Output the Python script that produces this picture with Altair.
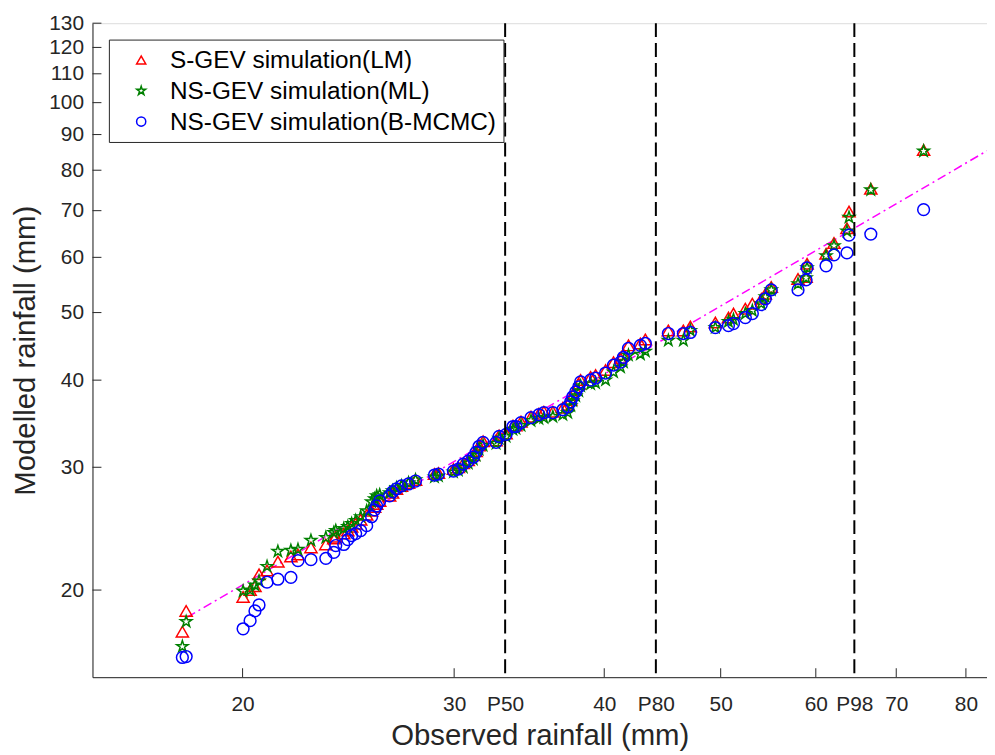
import altair as alt
import pandas as pd

# Observed rainfall (mm), sorted
observed = [17.82, 17.95, 20.02, 20.29, 20.48, 20.64, 20.96, 21.40, 21.94, 22.24,
            22.80, 23.46, 23.82, 23.91, 24.28, 24.47, 24.65, 24.84, 25.08, 25.37,
            25.61, 25.76, 25.86, 26.01, 26.51, 26.66, 26.86, 27.12, 27.49, 27.86,
            28.89, 29.11, 29.96, 30.24, 30.53, 30.82, 31.12, 31.29, 31.47, 31.71,
            32.51, 32.70, 33.14, 33.58, 33.77, 34.10, 34.76, 35.29, 35.63, 36.25,
            36.95, 37.30, 37.51, 37.66, 37.87, 38.09, 38.23, 38.97, 39.34, 40.10,
            40.72, 41.27, 41.50, 41.90, 42.87, 43.28, 45.23, 46.55, 47.18, 49.49,
            50.75, 51.24, 52.42, 53.13, 54.05, 54.47, 55.09, 57.99, 58.89, 59.00,
            61.19, 62.13, 63.69, 63.94, 66.67, 73.77]

# Modelled rainfall (mm)
s_gev_lm = [17.43, 18.67, 19.55, 20.00, 20.26, 21.07, 21.34, 21.97, 22.35, 22.50,
            23.02, 23.25, 23.71, 23.86, 24.10, 24.34, 24.66, 24.90, 25.23, 25.64,
            25.98, 26.32, 26.58, 26.84, 27.30, 27.57, 27.93, 28.21, 28.49, 28.77,
            29.34, 29.43, 29.82, 30.01, 30.41, 30.71, 31.22, 31.62, 32.25, 32.68,
            32.78, 33.32, 33.54, 34.43, 34.43, 34.88, 35.46, 35.81, 36.04, 36.04,
            36.52, 36.88, 37.49, 38.10, 38.73, 39.50, 40.02, 40.42, 40.68, 41.35,
            42.45, 43.00, 43.57, 44.87, 45.16, 45.76, 47.13, 47.13, 47.75, 48.38,
            49.18, 49.83, 50.65, 51.48, 52.33, 53.19, 54.42, 55.87, 56.24, 58.73,
            60.70, 62.93, 66.07, 69.79, 75.23, 85.50]

ns_gev_ml = [16.60, 18.02, 19.93, 20.00, 20.33, 20.60, 21.62, 22.72, 22.80, 22.87,
             23.56, 23.79, 24.18, 24.34, 24.50, 24.66, 24.90, 25.15, 25.48, 25.98,
             26.76, 27.03, 27.30, 27.39, 27.57, 27.75, 28.02, 28.21, 28.49, 28.77,
             29.05, 29.15, 29.53, 29.72, 30.01, 30.41, 30.81, 31.22, 31.83, 32.25,
             32.46, 33.00, 33.21, 33.98, 34.09, 34.43, 35.00, 35.23, 35.34, 35.46,
             35.69, 35.92, 36.76, 37.37, 37.98, 38.60, 39.24, 39.50, 39.63, 40.02,
             41.08, 41.76, 42.45, 43.43, 43.57, 44.00, 45.61, 45.61, 47.13, 47.59,
             48.54, 48.86, 49.83, 50.32, 51.48, 52.67, 53.89, 54.96, 56.06, 57.97,
             60.30, 62.31, 65.43, 68.49, 74.98, 85.22]

ns_gev_bmcmc = [16.01, 16.06, 17.60, 18.08, 18.67, 19.04, 20.53, 20.73, 20.86, 22.04,
                22.11, 22.21, 22.65, 23.17, 23.25, 23.63, 23.94, 24.10, 24.34, 24.74,
                25.48, 26.07, 26.41, 26.84, 27.30, 27.66, 27.93, 28.21, 28.39, 28.67,
                29.24, 29.34, 29.62, 29.82, 30.31, 30.61, 31.01, 31.52, 32.15, 32.57,
                32.57, 33.21, 33.43, 34.32, 34.32, 34.77, 35.34, 35.69, 35.92, 35.92,
                36.28, 36.64, 37.24, 37.86, 38.48, 39.11, 39.76, 40.02, 40.28, 40.95,
                42.03, 42.45, 43.14, 44.43, 44.87, 45.16, 46.66, 46.66, 46.82, 47.59,
                47.90, 48.22, 49.18, 49.83, 51.32, 52.33, 53.89, 53.89, 55.69, 57.97,
                58.35, 60.50, 60.90, 64.58, 64.79, 70.24]

series_names = ["S-GEV simulation(LM)", "NS-GEV simulation(ML)", "NS-GEV simulation(B-MCMC)"]
series_colors = ["#ff0000", "#008000", "#0000ff"]
STAR = ("M0,-1L0.225,-0.309L0.951,-0.309L0.363,0.118L0.588,0.809L0,0.382"
        "L-0.588,0.809L-0.363,0.118L-0.951,-0.309L-0.225,-0.309Z")
series_shapes = ["triangle-up", STAR, "circle"]
series_sizes = [150, 140, 120]

# Reference (fit) line end points
line_obs = [17.99, 83.3]
line_mod = [18.29, 85.3]

# Percentile markers
pct_values = [33.08, 44.16, 64.6]
pct_labels = ["P50", "P80", "P98"]

x_ticks = [20, 30, 40, 50, 60, 70, 80]
y_ticks = [20, 30, 40, 50, 60, 70, 80, 90, 100, 110, 120, 130]

FONT = "Liberation Sans"
AX = "#262626"

rows = []
for name, vals in zip(series_names, [s_gev_lm, ns_gev_ml, ns_gev_bmcmc]):
    for o, m in zip(observed, vals):
        rows.append({"obs": o, "mod": m, "series": name})
df = pd.DataFrame(rows)
df_line = pd.DataFrame({"obs": line_obs, "mod": line_mod})
df_pct = pd.DataFrame({"obs": pct_values, "label": pct_labels})
df_xt = pd.DataFrame({"obs": x_ticks})
df_yt = pd.DataFrame({"mod": y_ticks})

expr = "datum.label"
for v, lab in zip(pct_values, pct_labels):
    expr = f"datum.value == {v} ? '{lab}' : (" + expr + ")"

x_scale = alt.Scale(type="log", domain=[15, 83.3], nice=False)
y_scale = alt.Scale(type="log", domain=[15, 130], nice=False)

x_axis = alt.Axis(values=sorted(x_ticks + pct_values), labelExpr=expr,
                  ticks=False, grid=False, domainColor=AX, domainWidth=1,
                  labelFont=FONT, labelFontSize=21, labelColor=AX, labelPadding=17,
                  labelOverlap=False, labelFlush=False,
                  title="Observed rainfall (mm)", titleFont=FONT, titleFontSize=29.5,
                  titleFontWeight="normal", titleColor=AX, titlePadding=7)
y_axis = alt.Axis(values=y_ticks, ticks=False, grid=False,
                  domainColor=AX, domainWidth=1,
                  labelFont=FONT, labelFontSize=21, labelColor=AX, labelPadding=9,
                  labelOverlap=False, labelFlush=False,
                  title="Modelled rainfall (mm)", titleFont=FONT, titleFontSize=29.5,
                  titleFontWeight="normal", titleColor=AX, titlePadding=8)

X = alt.X("obs:Q", scale=x_scale, axis=x_axis)
Y = alt.Y("mod:Q", scale=y_scale, axis=y_axis)

line = alt.Chart(df_line).mark_line(color="#ff00ff", strokeWidth=1.5,
                                    strokeDash=[9, 4, 2, 4]).encode(x=X, y=Y)

points = alt.Chart(df).mark_point(filled=False, strokeWidth=1.5, opacity=1).encode(
    x=X, y=Y,
    color=alt.Color("series:N", scale=alt.Scale(domain=series_names, range=series_colors),
                    legend=None),
    shape=alt.Shape("series:N", scale=alt.Scale(domain=series_names, range=series_shapes),
                    legend=None),
    size=alt.Size("series:N", scale=alt.Scale(domain=series_names, range=series_sizes),
                  legend=None),
)

pct_rules = alt.Chart(df_pct).mark_rule(color="#000000", strokeWidth=2,
                                        strokeDash=[14, 6]).encode(x=X)

xt = alt.Chart(df_xt).mark_rule(color=AX, strokeWidth=1).encode(
    x=X, y=alt.value(658), y2=alt.value(649))
yt = alt.Chart(df_yt).mark_rule(color=AX, strokeWidth=1).encode(
    y=Y, x=alt.value(0), x2=alt.value(9))

# Legend box (drawn as a layer so its position matches the reference)
leg_box = alt.Chart(pd.DataFrame({"k": [0]})).mark_rect(
    fill="white", stroke=AX, strokeWidth=1).encode(
    x=alt.value(17), x2=alt.value(414), y=alt.value(17), y2=alt.value(120))
leg_layers = [leg_box]
for i, (name, col, shp) in enumerate(zip(series_names, series_colors, series_shapes)):
    ypos = 37 + 31 * i
    d = pd.DataFrame({"label": [name]})
    leg_layers.append(alt.Chart(d).mark_point(
        filled=False, strokeWidth=1.5, opacity=1, color=col, shape=shp, size=85).encode(
        x=alt.value(49), y=alt.value(ypos)))
    leg_layers.append(alt.Chart(d).mark_text(
        align="left", baseline="middle", font=FONT, fontSize=24.5, color="#000000").encode(
        text="label:N", x=alt.value(78), y=alt.value(ypos + 1)))

chart = alt.layer(line, points, pct_rules, xt, yt, *leg_layers).properties(
    width=900, height=658,
    autosize=alt.AutoSizeParams(type="none"),
    padding={"left": 85, "top": 13, "right": 0, "bottom": 76},
).configure_view(stroke=None).configure(background="white")

chart.save("out.html", embed_options={"renderer": "svg", "actions": False})
